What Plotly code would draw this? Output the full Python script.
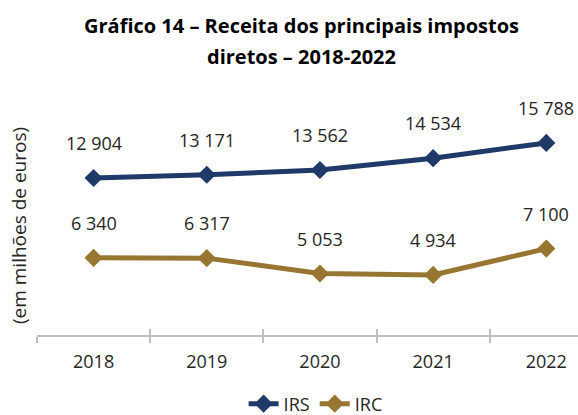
import plotly.graph_objects as go

years = ["2018", "2019", "2020", "2021", "2022"]
irs = [12904, 13171, 13562, 14534, 15788]
irc = [6340, 6317, 5053, 4934, 7100]
series_names = ["IRS", "IRC"]
colors = ["#1F3A68", "#977631"]
title_lines = ["Gráfico 14 – Receita dos principais impostos", "diretos – 2018-2022"]

def fmt(v):
    return f"{v:,}".replace(",", " ")

xpos = list(range(len(years)))
boundaries = [i - 0.5 for i in range(len(years) + 1)]

font_fam = "Open Sans"
fs = 18
plot_top, plot_bottom = 116, 335

def paper_y(px):
    return (plot_bottom - px) / (plot_bottom - plot_top)

fig = go.Figure()
annotations = []
for name, vals, col in zip(series_names, [irs, irc], colors):
    fig.add_trace(go.Scatter(
        x=xpos, y=vals, name=name, mode="lines+markers",
        line=dict(color=col, width=5),
        marker=dict(symbol="diamond", size=14, color=col),
    ))
    for xi, v in zip(xpos, vals):
        annotations.append(dict(x=xi, y=v, text=fmt(v), showarrow=False,
                                yshift=35, font=dict(size=fs, color="#262626",
                                family=font_fam)))

for line, py in zip(title_lines, [25, 56]):
    annotations.append(dict(
        text=f"<b>{line}</b>", xref="paper", yref="paper", x=0.489,
        xanchor="center", y=paper_y(py), yanchor="middle", showarrow=False,
        font=dict(family=font_fam, size=20, color="#000000"),
    ))

# overlay axis for the "inside" half of the crossing boundary ticks
fig.add_trace(go.Scatter(x=[], y=[], xaxis="x2", showlegend=False))

fig.update_layout(
    width=578, height=415,
    margin=dict(l=37, r=0, t=plot_top, b=415 - plot_bottom, autoexpand=False),
    paper_bgcolor="white", plot_bgcolor="white",
    font=dict(family=font_fam, size=fs, color="#262626"),
    xaxis=dict(
        range=[-0.5, 4.28], tickmode="array", tickvals=xpos, ticktext=years,
        ticks="", showline=True, linecolor="#BFBFBF", linewidth=1.5,
        showgrid=False, zeroline=False, automargin=False,
        ticklabelstandoff=10,
        tickfont=dict(size=fs, color="#262626"),
        minor=dict(tickmode="array", tickvals=boundaries, ticks="outside",
                   ticklen=6, tickcolor="#BFBFBF", tickwidth=1.5, showgrid=False),
    ),
    xaxis2=dict(
        overlaying="x", anchor="y", side="bottom", range=[-0.5, 4.28],
        tickmode="array", tickvals=boundaries, ticks="inside", ticklen=6,
        tickcolor="#BFBFBF", tickwidth=1.5, showticklabels=False,
        showline=False, showgrid=False, zeroline=False, automargin=False,
    ),
    yaxis=dict(
        range=[0, 18000], showticklabels=False, showgrid=False,
        zeroline=False, showline=False, ticks="", automargin=False,
        title=dict(text="(em milhões de euros)", standoff=4,
                   font=dict(size=19, color="#262626")),
    ),
    legend=dict(orientation="h", x=0.515, xanchor="center", y=paper_y(404),
                yanchor="middle", font=dict(size=fs, color="#262626")),
    annotations=annotations,
)

fig.write_html("out.html", config={"displayModeBar": False},
               post_script="document.body.style.margin='0';")
